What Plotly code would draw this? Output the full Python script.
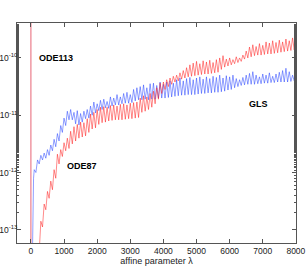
import numpy as np
import plotly.graph_objects as go

# affine parameter grid (step 100) and log10 of the error, upper / lower envelope
gls_head_lam = [45, 60, 80]
gls_head_log = [-13.5, -12.4, -12.1]
gls_lam = list(range(100, 8001, 100))
gls_log_hi = [-11.95, -11.78, -11.70, -11.66, -11.60, -11.52, -11.42, -11.32, -11.18, -11.05,
              -10.93, -10.90, -10.95, -10.92, -10.97, -10.93, -10.90, -10.84, -10.77, -10.80,
              -10.74, -10.72, -10.76, -10.68, -10.70, -10.64, -10.68, -10.62, -10.60, -10.64,
              -10.55, -10.52, -10.50, -10.47, -10.52, -10.45, -10.44, -10.48, -10.42, -10.46,
              -10.42, -10.40, -10.44, -10.38, -10.35, -10.40, -10.36, -10.34, -10.38, -10.35,
              -10.33, -10.37, -10.33, -10.36, -10.32, -10.34, -10.30, -10.35, -10.31, -10.33,
              -10.30, -10.36, -10.38, -10.34, -10.30, -10.27, -10.24, -10.30, -10.33, -10.28,
              -10.30, -10.26, -10.32, -10.28, -10.25, -10.22, -10.18, -10.24, -10.30, -10.33]
gls_log_lo = [-12.00, -11.85, -11.78, -11.75, -11.70, -11.62, -11.55, -11.45, -11.30, -11.18,
              -11.08, -11.08, -11.15, -11.17, -11.12, -11.06, -11.05, -11.00, -10.96, -10.92,
              -10.90, -10.87, -10.88, -10.84, -10.82, -10.82, -10.80, -10.79, -10.79, -10.78,
              -10.75, -10.73, -10.73, -10.72, -10.73, -10.72, -10.72, -10.70, -10.70, -10.70,
              -10.69, -10.68, -10.67, -10.66, -10.65, -10.65, -10.64, -10.64, -10.64, -10.63,
              -10.62, -10.62, -10.61, -10.61, -10.60, -10.60, -10.59, -10.58, -10.56, -10.55,
              -10.52, -10.50, -10.48, -10.47, -10.46, -10.46, -10.46, -10.45, -10.45, -10.44,
              -10.44, -10.43, -10.43, -10.42, -10.42, -10.42, -10.42, -10.41, -10.40, -10.38]

ode87_head_lam = [240, 270]
ode87_head_log = [-13.5, -13.05]
ode87_lam = list(range(300, 8001, 100))
ode87_log_hi = [-12.85, -12.55, -12.33, -12.15, -11.95, -11.68, -11.60, -11.48,
                -11.40, -11.28, -11.20, -11.16, -11.12, -11.13, -11.06, -10.98, -10.95, -10.90,
                -10.86, -10.85, -10.86, -10.83, -10.82, -10.84, -10.81, -10.80, -10.82, -10.79,
                -10.78, -10.77, -10.70, -10.66, -10.68, -10.62, -10.58, -10.52, -10.44, -10.42,
                -10.38, -10.35, -10.32, -10.30, -10.26, -10.22, -10.17, -10.12, -10.09, -10.06,
                -10.10, -10.05, -10.07, -10.04, -10.08, -10.03, -10.00, -9.96, -10.02, -10.00,
                -10.03, -9.98, -10.00, -9.95, -9.88, -9.81, -9.77, -9.80, -9.75, -9.78,
                -9.72, -9.74, -9.70, -9.73, -9.69, -9.72, -9.67, -9.70, -9.65, -9.63]
ode87_log_lo = [-12.95, -12.65, -12.45, -12.30, -12.10, -11.85, -11.72, -11.62,
                -11.58, -11.50, -11.45, -11.40, -11.38, -11.36, -11.30, -11.24, -11.22, -11.16,
                -11.13, -11.12, -11.10, -11.09, -11.08, -11.08, -11.08, -11.07, -11.06, -11.06,
                -11.05, -11.04, -10.95, -10.93, -10.90, -10.86, -10.80, -10.72, -10.62, -10.55,
                -10.50, -10.46, -10.42, -10.40, -10.37, -10.35, -10.33, -10.32, -10.31, -10.30,
                -10.29, -10.28, -10.28, -10.27, -10.26, -10.25, -10.20, -10.16, -10.14, -10.12,
                -10.10, -10.08, -10.06, -10.02, -10.00, -9.98, -9.96, -9.95, -9.95, -9.94,
                -9.93, -9.93, -9.92, -9.91, -9.90, -9.89, -9.88, -9.87, -9.86, -9.85]

ode113_lam = [0, 0]
ode113_err = [1e-14, 1e-8]

x_ticks = [0, 1000, 2000, 3000, 4000, 5000, 6000, 7000, 8000]
y_ticks = [1e-13, 1e-12, 1e-11, 1e-10]
y_tick_text = ["10<sup>-13</sup>", "10<sup>-12</sup>", "10<sup>-11</sup>", "10<sup>-10</sup>"]


def zigzag(head_lam, head_log, lam, hi, lo, half=50):
    xs = list(head_lam)
    ys = [10 ** v for v in head_log]
    for l, h, d in zip(lam, hi, lo):
        xs += [l, l + half]
        ys += [10 ** h, 10 ** d]
    return xs, ys


gx, gy = zigzag(gls_head_lam, gls_head_log, gls_lam, gls_log_hi, gls_log_lo)
rx, ry = zigzag(ode87_head_lam, ode87_head_log, ode87_lam, ode87_log_hi, ode87_log_lo)

fig = go.Figure()
fig.add_trace(go.Scatter(x=ode113_lam, y=ode113_err, mode="lines",
                         line=dict(color="rgb(225,60,80)", width=0.8), name="ODE113"))
fig.add_trace(go.Scatter(x=gx, y=gy, mode="lines",
                         line=dict(color="rgb(30,60,255)", width=0.5), name="GLS"))
fig.add_trace(go.Scatter(x=rx, y=ry, mode="lines",
                         line=dict(color="rgb(255,20,20)", width=0.5), name="ODE87"))

lab_font = dict(family="Liberation Sans, Arial, sans-serif", size=9, color="black")
fig.add_annotation(x=760, y=-10.0, xref="x", yref="y", text="<b>ODE113</b>",
                   showarrow=False, font=lab_font)
fig.add_annotation(x=1545, y=-11.88, xref="x", yref="y", text="<b>ODE87</b>",
                   showarrow=False, font=lab_font)
fig.add_annotation(x=6880, y=-10.80, xref="x", yref="y", text="<b>GLS</b>",
                   showarrow=False, font=lab_font)

base_axis = dict(showline=True, linecolor="#555", linewidth=1, mirror="allticks",
                 ticks="inside", ticklen=4, tickcolor="#555", showgrid=False,
                 zeroline=False, automargin=False)
fig.update_xaxes(range=[-420, 8004], tickvals=x_ticks, ticktext=[str(v) for v in x_ticks],
                 tickfont=dict(family="Liberation Sans, Arial, sans-serif", size=8.5, color="#222"),
                 title=dict(text="affine parameter λ", standoff=0,
                            font=dict(family="Liberation Sans, Arial, sans-serif", size=9, color="#222")),
                 **base_axis)
fig.update_yaxes(type="log", range=[-13.23, -9.39], tickvals=y_ticks, ticktext=y_tick_text,
                 minor=dict(ticks="inside", ticklen=2, tickcolor="#555"),
                 tickfont=dict(family="Liberation Sans, Arial, sans-serif", size=8.5, color="#222"),
                 ticklabelstandoff=-3,
                 **base_axis)

fig.update_layout(width=306, height=266, margin=dict(l=17, r=10, t=23, b=23),
                  paper_bgcolor="white", plot_bgcolor="white", showlegend=False)
fig.write_html("out.html", config={"displayModeBar": False},
               post_script="document.body.style.margin='0';")
